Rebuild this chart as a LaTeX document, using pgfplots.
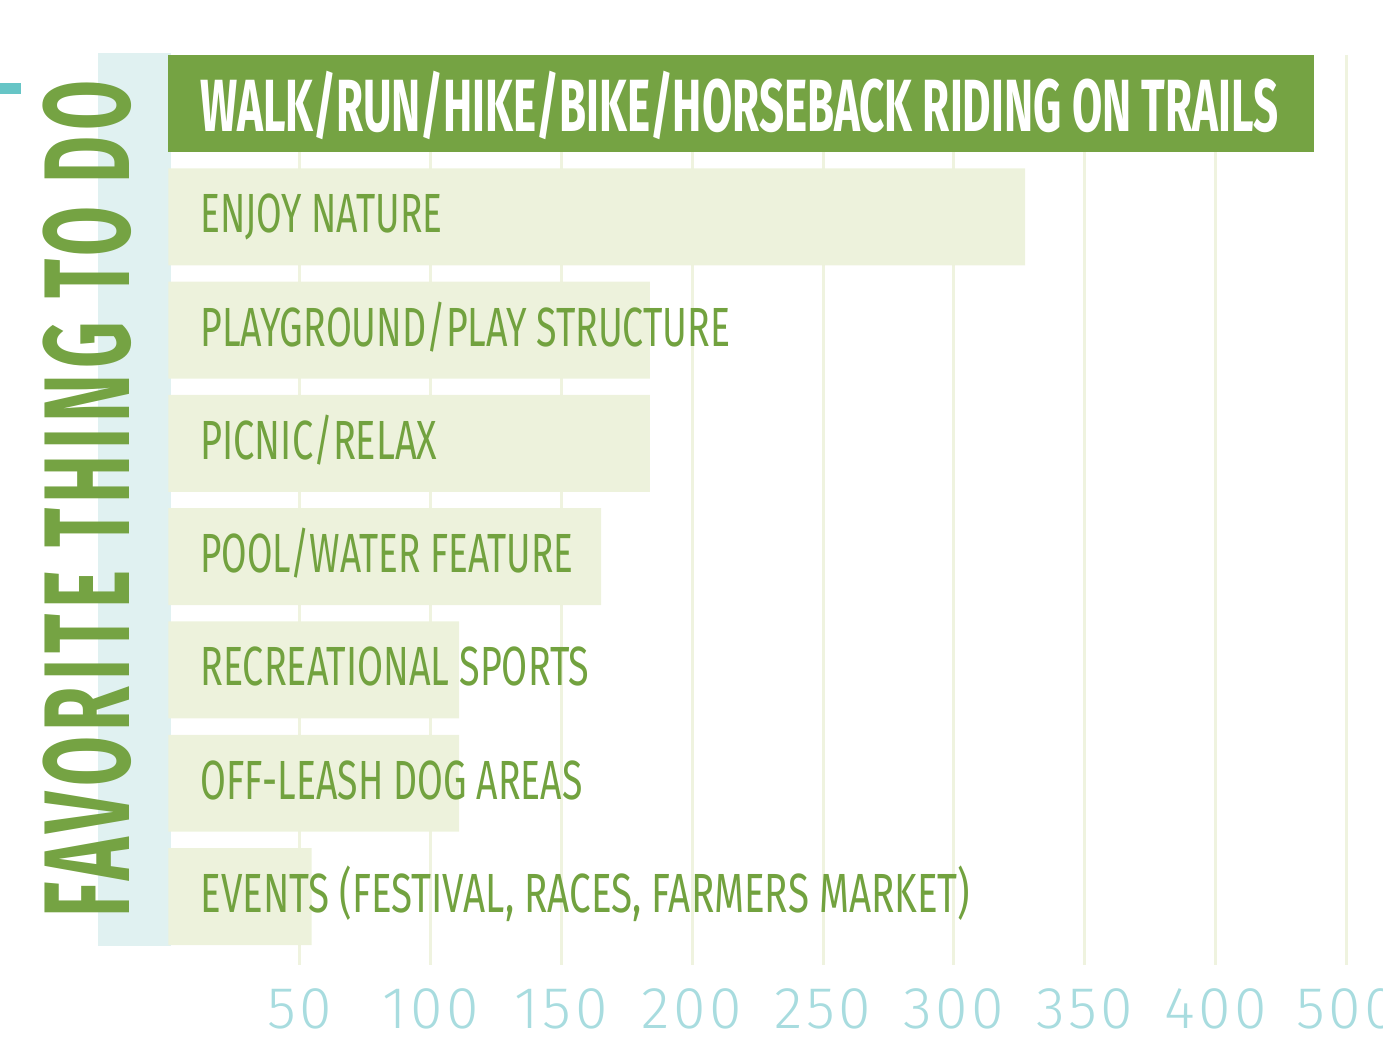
\documentclass[border=0pt]{standalone}
\usepackage{fontspec}
\usepackage{graphicx}
\usepackage{pgfplots}
\pgfplotsset{compat=1.18}
\setmainfont{Fira Sans}
\newfontfamily\lightfont{Fira Sans Light}[LetterSpace=6]
\newfontfamily\titlefont{Fira Sans}[LetterSpace=8]
\definecolor{darkgreen}{HTML}{75A343}
\definecolor{lightbar}{HTML}{EDF2DC}
\definecolor{textgreen}{HTML}{72A23F}
\definecolor{gridc}{HTML}{EFF3DF}
\definecolor{bandc}{HTML}{E0F1F1}
\definecolor{tickc}{HTML}{A8DCDF}
\definecolor{smalltickc}{HTML}{66C5C6}
\begin{document}
\begin{tikzpicture}
\begin{axis}[
  set layers=standard,
  at={(0pt,43.5pt)}, anchor=south west,
  scale only axis, width=691.5pt, height=455pt,
  xmin=-64.36, xmax=463.9,
  ymin=-0.428, ymax=7.604, y dir=reverse,
  axis line style={draw=none}, tick style={draw=none},
  major tick length=0pt,
  xmajorgrids, ymajorgrids=false,
  grid style={color=gridc, line width=1.5pt},
  xtick={50,100,150,200,250,300,350,400,450},
  xticklabels={50,100,150,200,250,300,350,400,500},
  xticklabel style={font=\lightfont\fontsize{29.5}{29.5}\selectfont, text=tickc, inner sep=0pt, anchor=north, yshift=-11.5pt},
  /pgf/number format/assume math mode=true,
  ytick={0,1,2,3,4,5,6,7},
  yticklabels={
    {\raisebox{-6pt}{\resizebox{539pt}{\height}{\color{white}\fontsize{37}{37}\bfseries\selectfont WALK/RUN/HIKE/BIKE/HORSEBACK RIDING ON TRAILS}}},
    {\resizebox{121pt}{\height}{ENJOY NATURE}},
    {\resizebox{265pt}{\height}{PLAYGROUND/PLAY STRUCTURE}},
    {\resizebox{118.5pt}{\height}{PICNIC/RELAX}},
    {\resizebox{186.5pt}{\height}{POOL/WATER FEATURE}},
    {\resizebox{194.5pt}{\height}{RECREATIONAL SPORTS}},
    {\resizebox{191pt}{\height}{OFF-LEASH DOG AREAS}},
    {\resizebox{385pt}{\height}{EVENTS (FESTIVAL, RACES, FARMERS MARKET)}}
  },
  yticklabel style={font=\fontsize{27.6}{27.6}\selectfont, text=textgreen, anchor=base west, inner sep=0pt, xshift=100pt, yshift=-8pt, /pgfplots/on layer=axis foreground},
  clip=false,
]
\fill[bandc] (axis cs:-26.93,-0.446) rectangle (axis cs:1,7.436);
\fill[smalltickc] (axis cs:-64.36,-0.181) rectangle (axis cs:-56.34,-0.084);
\addplot[xbar, bar shift=0pt, bar width=0.856, fill=lightbar, draw=none]
  coordinates {(327.2,1) (183.9,2) (183.9,3) (165.2,4) (111,5) (111,6) (54.7,7)};
\addplot[xbar, bar shift=0pt, bar width=0.856, fill=darkgreen, draw=none]
  coordinates {(437.5,0)};
\node[rotate=90, inner sep=0pt, text=darkgreen] at (axis cs:-31.13,3.495)
  {\resizebox{418.5pt}{\height}{\titlefont\fontsize{61}{61}\bfseries\selectfont FAVORITE THING TO DO}};
\end{axis}
\pgfresetboundingbox
\path[use as bounding box] (0,0) rectangle (691.5pt,526pt);
\end{tikzpicture}
\end{document}
